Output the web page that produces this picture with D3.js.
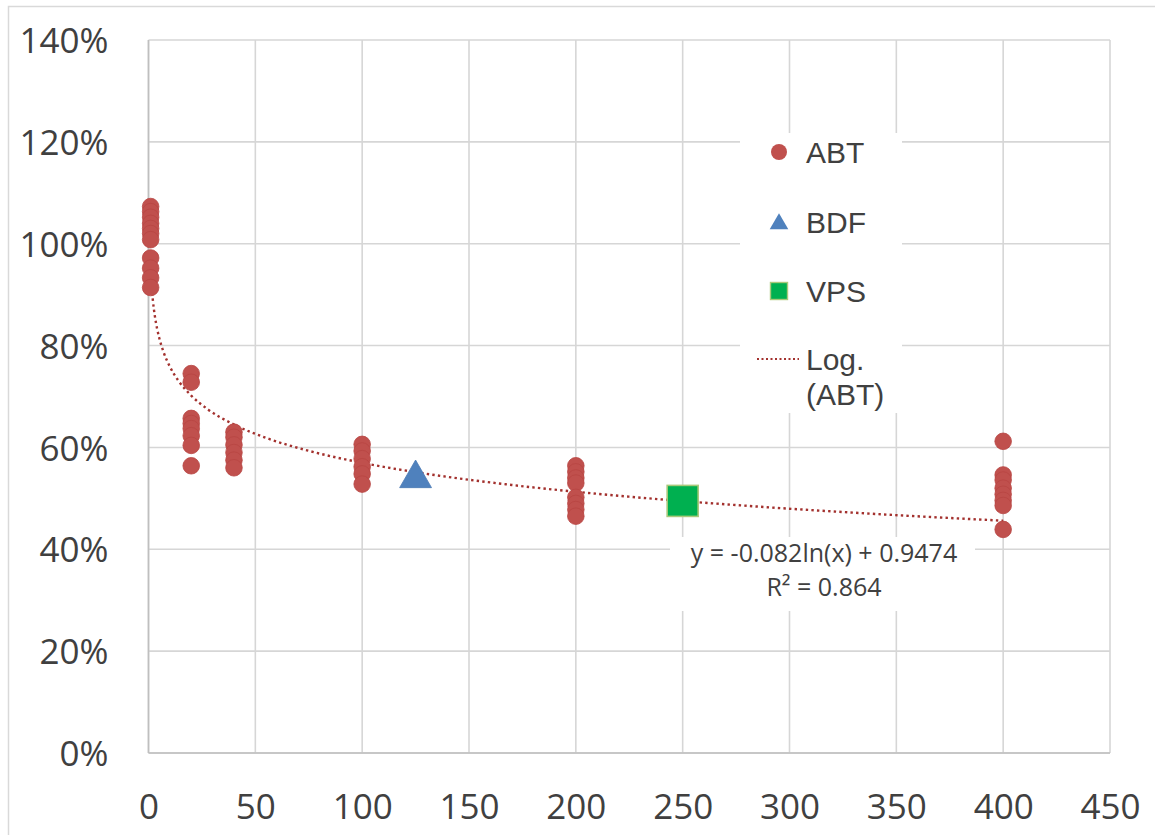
<!DOCTYPE html>
<html>
<head>
<meta charset="utf-8">
<script src="https://cdn.jsdelivr.net/npm/d3@7/dist/d3.min.js"></script>
<style>
  html, body { margin: 0; padding: 0; background: #ffffff; }
  svg { display: block; }
</style>
</head>
<body>
<svg id="chart" width="1155" height="835"></svg>
<script>
// ---- Data ----
const abtX = [1,1,1,1,1,1,1,1,1,1,1,
              20,20,20,20,20,20,20,20,
              40,40,40,40,40,40,
              100,100,100,100,100,100,
              200,200,200,200,200,200,200,200,
              400,400,400,400,400,400,400,400];
const abtY = [1.073,1.063,1.052,1.040,1.030,1.020,1.008,0.972,0.952,0.933,0.914,
              0.745,0.728,0.657,0.647,0.637,0.623,0.604,0.564,
              0.630,0.620,0.605,0.590,0.575,0.560,
              0.606,0.593,0.578,0.562,0.548,0.528,
              0.564,0.552,0.540,0.530,0.502,0.490,0.478,0.465,
              0.612,0.546,0.536,0.520,0.508,0.496,0.486,0.439];
const bdfX = [125];
const bdfY = [0.545];
const vpsX = [250];
const vpsY = [0.495];
const trendA = -0.082;
const trendB = 0.9474;
const trendXs = [1, 1.5, 2, 3, 4, 5, 7, 10, 14, 20, 28, 40, 55, 75, 100, 130, 170, 220, 280, 340, 400];
const xTicks = [0,50,100,150,200,250,300,350,400,450];
const yTicks = [0,0.2,0.4,0.6,0.8,1.0,1.2,1.4];
const legendLabels = ["ABT", "BDF", "VPS"];
const equationLines = ["y = -0.082ln(x) + 0.9474", "R² = 0.864"];

// ---- Layout ----
const svg = d3.select("#chart");
const pLeft = 148.5, pRight = 1110, pTop = 40, pBottom = 753;
const x = d3.scaleLinear().domain([0, 450]).range([pLeft, pRight]);
const y = d3.scaleLinear().domain([0, 1.4]).range([pBottom, pTop]);

const gridColor = "#d6d6d6";
const textColor = "#404040";

// outer chart border
svg.append("rect").attr("x", 8.5).attr("y", 6.5).attr("width", 1170).attr("height", 850)
  .attr("fill", "#ffffff").attr("stroke", "#d9d9d9").attr("stroke-width", 1.5);

// gridlines
const g = svg.append("g");
g.selectAll("line.v").data(xTicks).enter().append("line")
  .attr("x1", d => x(d)).attr("x2", d => x(d)).attr("y1", pTop).attr("y2", pBottom)
  .attr("stroke", gridColor).attr("stroke-width", 1.6);
g.selectAll("line.h").data(yTicks).enter().append("line")
  .attr("x1", pLeft).attr("x2", pRight).attr("y1", d => y(d)).attr("y2", d => y(d))
  .attr("stroke", gridColor).attr("stroke-width", 1.6);
// axis lines (slightly darker)
svg.append("line").attr("x1", pLeft).attr("x2", pLeft).attr("y1", pTop).attr("y2", pBottom)
  .attr("stroke", "#bfbfbf").attr("stroke-width", 1.6);
svg.append("line").attr("x1", pLeft).attr("x2", pRight).attr("y1", pBottom).attr("y2", pBottom)
  .attr("stroke", "#bfbfbf").attr("stroke-width", 1.6);

// axes labels via d3 axes
const yAxis = d3.axisLeft(y).tickValues(yTicks).tickFormat(d3.format(".0%")).tickSize(0).tickPadding(0);
const ya = svg.append("g").attr("transform", `translate(${pLeft - 40},0)`).call(yAxis);
ya.select(".domain").remove();
ya.selectAll("text").attr("font-family", "'Open Sans', sans-serif").attr("font-size", 35)
  .attr("fill", textColor).attr("dy", "0.36em");

const xAxis = d3.axisBottom(x).tickValues(xTicks).tickFormat(d3.format("d")).tickSize(0).tickPadding(0);
const xa = svg.append("g").attr("transform", `translate(0,${pBottom + 41})`).call(xAxis);
xa.select(".domain").remove();
xa.selectAll("text").attr("font-family", "'Open Sans', sans-serif").attr("font-size", 35)
  .attr("fill", textColor).attr("dy", "0.71em");

// legend background box
svg.append("rect").attr("x", 740).attr("y", 133).attr("width", 162).attr("height", 280).attr("fill", "#ffffff");
// equation background box
svg.append("rect").attr("x", 670).attr("y", 537).attr("width", 305).attr("height", 74).attr("fill", "#ffffff");

// trendline
const tl = d3.line().x(d => x(d)).y(d => y(trendA * Math.log(d) + trendB)).curve(d3.curveMonotoneX);
svg.append("path").datum(trendXs).attr("d", tl).attr("fill", "none")
  .attr("stroke", "#a3312e").attr("stroke-width", 2.4).attr("stroke-dasharray", "2.4,3.2");

// ABT points
const abt = abtX.map((v, i) => ({x: v, y: abtY[i]}));
svg.append("g").selectAll("circle").data(abt).enter().append("circle")
  .attr("cx", d => x(d.x)).attr("cy", d => y(d.y)).attr("r", 8.3)
  .attr("fill", "#c0504d").attr("stroke", "#b84542").attr("stroke-width", 0.8);

// BDF triangle
const triSym = d3.symbol().type(d3.symbolTriangle).size(440);
svg.append("g").selectAll("path").data(bdfX.map((v, i) => ({x: v, y: bdfY[i]}))).enter().append("path")
  .attr("d", triSym).attr("transform", d => `translate(${x(d.x)},${y(d.y) + 3})`)
  .attr("fill", "#4f81bd").attr("stroke", "#4a7ab5").attr("stroke-width", 0.8);

// VPS square
const sqSize = 31;
svg.append("g").selectAll("rect").data(vpsX.map((v, i) => ({x: v, y: vpsY[i]}))).enter().append("rect")
  .attr("x", d => x(d.x) - sqSize / 2).attr("y", d => y(d.y) - sqSize / 2)
  .attr("width", sqSize).attr("height", sqSize)
  .attr("fill", "#00b050").attr("stroke", "#a9c97a").attr("stroke-width", 1.6);

// legend
const legFont = "'Liberation Sans', Arial, sans-serif";
const legY = [152, 222, 291];
const lx = 779;
svg.append("circle").attr("cx", lx).attr("cy", legY[0]).attr("r", 8).attr("fill", "#c0504d");
svg.append("path").attr("d", d3.symbol().type(d3.symbolTriangle).size(150))
  .attr("transform", `translate(${lx},${legY[1] + 2})`).attr("fill", "#4f81bd");
svg.append("rect").attr("x", lx - 8.5).attr("y", legY[2] - 8.5).attr("width", 17).attr("height", 17)
  .attr("fill", "#00b050").attr("stroke", "#a9c97a").attr("stroke-width", 1.4);
svg.append("line").attr("x1", 757).attr("x2", 799).attr("y1", 359).attr("y2", 359)
  .attr("stroke", "#a3312e").attr("stroke-width", 2).attr("stroke-dasharray", "2,2.5");
legendLabels.forEach((t, i) => {
  svg.append("text").attr("x", 806).attr("y", legY[i] + 10.5).text(t)
    .attr("font-family", legFont).attr("font-size", 30).attr("fill", textColor);
});
svg.append("text").attr("x", 806).attr("y", 370).text("Log.")
  .attr("font-family", legFont).attr("font-size", 30).attr("fill", textColor);
svg.append("text").attr("x", 806).attr("y", 405).text("(ABT)")
  .attr("font-family", legFont).attr("font-size", 30).attr("fill", textColor);

// equation
equationLines.forEach((t, i) => {
  svg.append("text").attr("x", 824).attr("y", 562 + i * 34).attr("text-anchor", "middle").text(t)
    .attr("font-family", "'Open Sans', sans-serif").attr("font-size", 25).attr("fill", textColor);
});
</script>
</body>
</html>
